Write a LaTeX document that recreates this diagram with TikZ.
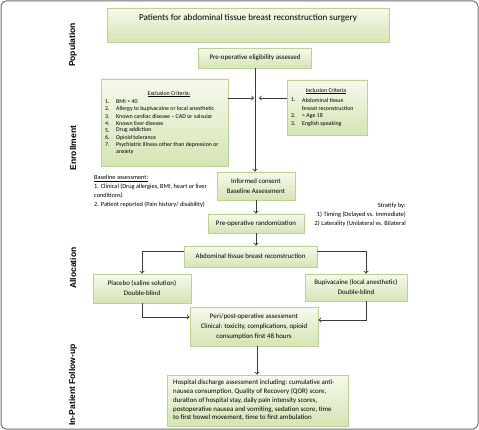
\documentclass[tikz,border=0pt]{standalone}
\usepackage{fontspec}
\setmainfont{Carlito}
\newfontfamily\phasefont{Liberation Sans}
\definecolor{boxtop}{HTML}{F5F9EC}
\definecolor{boxbot}{HTML}{D5E5B4}
\definecolor{boxline}{HTML}{BCD294}
\definecolor{arrowgray}{HTML}{3A3A3A}
\definecolor{framegray}{HTML}{6E6E6E}
\tikzset{
  greenbox/.style={draw=boxline, top color=boxtop, bottom color=boxbot, line width=0.9pt, inner sep=0pt, align=center},
  flow/.style={->, draw=arrowgray, line width=0.9pt},
  phase/.style={rotate=90, font=\phasefont\bfseries\fontsize{8.5}{10}\selectfont},
  boxtext/.style={font=\fontsize{6.9}{10}\selectfont},
  smalltext/.style={font=\fontsize{5.9}{7}\selectfont, inner sep=0pt},
}

\begin{document}
\begin{tikzpicture}[x=1pt,y=-1pt,>=to]
        \useasboundingbox (0,0) rectangle (479,430);
        \draw[framegray, rounded corners=5pt, line width=1pt] (1,1) rectangle (478,429);

        % phases
        \node[phase] (population) at (73,45) {Population};
        \node[phase] (enrollment) at (73,148) {Enrollment};
        \node[phase] (allocation) at (73,268) {Allocation};
        \node[phase] (followup) at (73,385) {In-Patient Follow-up};

        % population
        \node[greenbox, minimum width=282pt, minimum height=34pt] (patients) at (248,25) {};
        \node[font=\fontsize{9.1}{11}\selectfont] (patientstext) at (248,18) {Patients for abdominal tissue breast reconstruction surgery};
        \node[greenbox, boxtext, minimum width=113pt, minimum height=20pt] (elig) at (255,58) {Pre-operative eligibility assessed};

        % exclusion criteria
        \node[greenbox, minimum width=127pt, minimum height=87pt] (excl) at (164.5,122.5) {};
        \node[smalltext] (exclhead) at (169,94) {\underline{Exclusion Criteria:}};
        \foreach \txt [count=\i] in {BMI > 40, Allergy to bupivacaine or local anesthetic,
            Known cardiac disease – CAD or valvular, Known liver disease, Drug addiction,
            Opioid tolerance, Psychiatric illness other than depression or} {
          \node[smalltext, anchor=west] (exn\i) at (105,102+7.1*\i-7.1) {\i.};
          \node[smalltext, anchor=west] (ex\i) at (116,102+7.1*\i-7.1) {\txt};
        }
        \node[smalltext, anchor=west] (ex8) at (116,152) {anxiety};

        % inclusion criteria
        \node[greenbox, minimum width=80pt, minimum height=55pt] (incl) at (327,107.5) {};
        \node[smalltext] (inclhead) at (326,91) {\underline{Inclusion Criteria}};
        \node[smalltext, anchor=west] (inn1) at (291,100) {1.};
        \node[smalltext, anchor=west] (in1) at (302,100) {Abdominal tissue};
        \node[smalltext, anchor=west] (in1b) at (302,108) {breast reconstruction};
        \node[smalltext, anchor=west] (inn2) at (291,116) {2.};
        \node[smalltext, anchor=west] (in2) at (302,116) {> Age 18};
        \node[smalltext, anchor=west] (inn3) at (291,124) {3.};
        \node[smalltext, anchor=west] (in3) at (302,124) {English speaking};

        % enrollment
        \node[greenbox, boxtext, minimum width=78pt, minimum height=28pt] (consent) at (256,186) {Informed consent\\Baseline Assessment};
        \node[anchor=north west, align=left, inner sep=0pt, font=\fontsize{6.3}{9}\selectfont] (baseline) at (94,175) {\underline{Baseline assessment:}\\1. Clinical (Drug allergies, BMI, heart or liver\\conditions)\\2. Patient reported (Pain history/ disability)};
        \node[anchor=north east, align=right, inner sep=0pt, font=\fontsize{6.4}{9}\selectfont] (stratify) at (406,203) {Stratify by:\\1) Timing (Delayed vs. Immediate)\\2) Laterality (Unilateral vs. Bilateral};
        \node[greenbox, boxtext, minimum width=96pt, minimum height=19pt] (rand) at (256,223.5) {Pre-operative randomization};

        % allocation
        \node[greenbox, boxtext, minimum width=133pt, minimum height=21pt] (abd) at (250.5,256.5) {Abdominal tissue breast reconstruction};
        \node[greenbox, boxtext, minimum width=98pt, minimum height=29pt] (placebo) at (142,288.5) {Placebo (saline solution)\\Double-blind};
        \node[greenbox, boxtext, minimum width=102pt, minimum height=27pt] (bupi) at (356,287.5) {Bupivacaine (local anesthetic)\\Double-blind};

        % follow-up
        \node[greenbox, boxtext, minimum width=128pt, minimum height=39pt] (peri) at (254,326.5) {Peri/post-operative assessment\\Clinical: toxicity, complications, opioid\\consumption first 48 hours};
        \node[greenbox, minimum width=181pt, minimum height=51pt] (hosp) at (257.5,400.5) {};
        \node[anchor=west, align=left, inner sep=0pt, font=\fontsize{6.9}{8.75}\selectfont] (hosptext) at (173,400.5) {Hospital discharge assessment including: cumulative anti-\\nausea consumption, Quality of Recovery (QOR) score,\\duration of hospital stay, daily pain intensity scores,\\postoperative nausea and vomiting, sedation score, time\\to first bowel movement, time to first ambulation};

        % connectors
        \coordinate (joinL) at (254,98);
        \coordinate (joinR) at (259,98);
        \draw[flow] (elig.south) -- (elig.south |- consent.north);
        \draw[flow] (excl.east |- joinL) -- (joinL);
        \draw[flow] (incl.west |- joinR) -- (joinR);
        \draw[flow] (consent.south) -- (consent.south |- rand.north);
        \draw[flow] (rand.south) -- (rand.south |- abd.north);
        \draw[flow] ([yshift=5pt]abd.west) -| (placebo.north);
        \draw[flow] ([yshift=5pt]abd.east) -| ([xshift=10pt]bupi.north);
        \draw[flow] (placebo.south) |- ([yshift=9.5pt]peri.west);
        \draw[flow] ([xshift=10pt]bupi.south) |- ([yshift=6.5pt]peri.east);
        \draw[flow] ([xshift=3pt]peri.south) -- ([xshift=3pt]peri.south |- hosp.north);
\end{tikzpicture}
\end{document}
